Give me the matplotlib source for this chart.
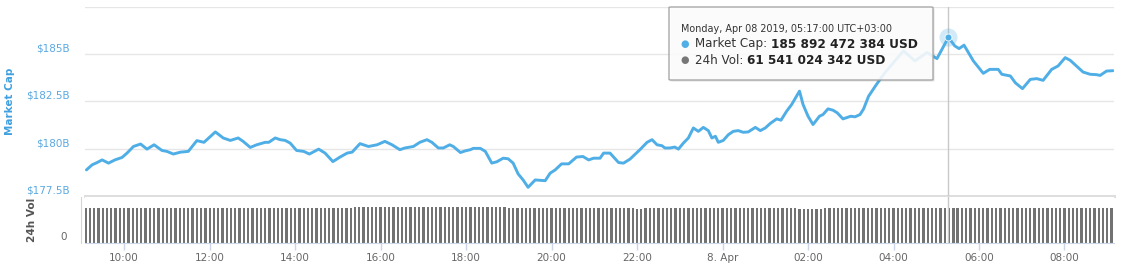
import matplotlib
matplotlib.use("Agg")
import matplotlib.pyplot as plt
import matplotlib.dates as mdates
from matplotlib.transforms import offset_copy, blended_transform_factory
from matplotlib.patches import FancyBboxPatch
import pandas as pd

# ---------------- data ----------------
mcap_times = [
    "04-07 09:07", "04-07 09:15", "04-07 09:22", "04-07 09:29", "04-07 09:38", "04-07 09:47",
    "04-07 09:57", "04-07 10:04", "04-07 10:13", "04-07 10:23", "04-07 10:32", "04-07 10:42",
    "04-07 10:53", "04-07 11:00", "04-07 11:09", "04-07 11:19", "04-07 11:30", "04-07 11:42",
    "04-07 11:52", "04-07 12:08", "04-07 12:19", "04-07 12:29", "04-07 12:40", "04-07 12:47",
    "04-07 12:57", "04-07 13:06", "04-07 13:18", "04-07 13:23", "04-07 13:32", "04-07 13:39",
    "04-07 13:46", "04-07 13:53", "04-07 14:02", "04-07 14:12", "04-07 14:20", "04-07 14:33",
    "04-07 14:42", "04-07 14:53", "04-07 15:03", "04-07 15:13", "04-07 15:20", "04-07 15:31",
    "04-07 15:43", "04-07 15:55", "04-07 16:06", "04-07 16:16", "04-07 16:27", "04-07 16:34",
    "04-07 16:46", "04-07 16:55", "04-07 17:05", "04-07 17:12", "04-07 17:21", "04-07 17:28",
    "04-07 17:37", "04-07 17:42", "04-07 17:52", "04-07 17:59", "04-07 18:06", "04-07 18:10",
    "04-07 18:20", "04-07 18:27", "04-07 18:36", "04-07 18:43", "04-07 18:52", "04-07 18:59",
    "04-07 19:06", "04-07 19:13", "04-07 19:20", "04-07 19:27", "04-07 19:37", "04-07 19:51",
    "04-07 19:58", "04-07 20:05", "04-07 20:14", "04-07 20:24", "04-07 20:35", "04-07 20:44",
    "04-07 20:52", "04-07 20:59", "04-07 21:08", "04-07 21:13", "04-07 21:22", "04-07 21:34",
    "04-07 21:41", "04-07 21:50", "04-07 22:04", "04-07 22:14", "04-07 22:21", "04-07 22:28",
    "04-07 22:35", "04-07 22:39", "04-07 22:46", "04-07 22:53", "04-07 22:58", "04-07 23:05",
    "04-07 23:12", "04-07 23:19", "04-07 23:26", "04-07 23:33", "04-07 23:40", "04-07 23:45",
    "04-07 23:50", "04-07 23:54", "04-08 00:01", "04-08 00:08", "04-08 00:15", "04-08 00:22",
    "04-08 00:29", "04-08 00:36", "04-08 00:46", "04-08 00:53", "04-08 01:00", "04-08 01:07",
    "04-08 01:16", "04-08 01:22", "04-08 01:30", "04-08 01:37", "04-08 01:48", "04-08 01:53",
    "04-08 02:00", "04-08 02:07", "04-08 02:16", "04-08 02:21", "04-08 02:28", "04-08 02:35",
    "04-08 02:41", "04-08 02:49", "04-08 03:00", "04-08 03:06", "04-08 03:13", "04-08 03:18",
    "04-08 03:25", "04-08 03:36", "04-08 03:48", "04-08 04:02", "04-08 04:14", "04-08 04:30",
    "04-08 04:47", "04-08 05:01", "04-08 05:17", "04-08 05:26", "04-08 05:32", "04-08 05:39",
    "04-08 05:52", "04-08 06:06", "04-08 06:15", "04-08 06:27", "04-08 06:32", "04-08 06:44",
    "04-08 06:51", "04-08 07:01", "04-08 07:12", "04-08 07:21", "04-08 07:30", "04-08 07:42",
    "04-08 07:51", "04-08 08:01", "04-08 08:08", "04-08 08:26", "04-08 08:36", "04-08 08:45",
    "04-08 08:50", "04-08 08:59", "04-08 09:08",
]
mcap_billion = [
    178.88, 179.15, 179.27, 179.41, 179.24, 179.41,
    179.54, 179.77, 180.12, 180.25, 179.98, 180.21,
    179.91, 179.86, 179.72, 179.82, 179.86, 180.43,
    180.34, 180.89, 180.57, 180.44, 180.57, 180.39,
    180.07, 180.21, 180.34, 180.34, 180.57, 180.48,
    180.44, 180.30, 179.91, 179.86, 179.72, 179.98,
    179.77, 179.32, 179.56, 179.77, 179.82, 180.27,
    180.12, 180.21, 180.39, 180.21, 179.95, 180.04,
    180.12, 180.34, 180.48, 180.34, 180.04, 180.04,
    180.21, 180.12, 179.80, 179.89, 179.95, 180.02,
    180.02, 179.86, 179.24, 179.31, 179.50, 179.47,
    179.24, 178.67, 178.35, 177.96, 178.35, 178.31,
    178.71, 178.88, 179.20, 179.20, 179.56, 179.59,
    179.41, 179.50, 179.50, 179.77, 179.77, 179.27,
    179.24, 179.45, 179.95, 180.34, 180.48, 180.21,
    180.16, 180.04, 180.04, 180.09, 179.98, 180.30,
    180.57, 181.10, 180.92, 181.13, 180.96, 180.57,
    180.66, 180.34, 180.44, 180.74, 180.92, 180.96,
    180.87, 180.89, 181.13, 180.96, 181.10, 181.34,
    181.58, 181.51, 181.99, 182.34, 183.05, 182.34,
    181.72, 181.28, 181.72, 181.81, 182.11, 182.04,
    181.90, 181.58, 181.72, 181.69, 181.81, 182.11,
    182.78, 183.40, 184.03, 184.65, 185.18, 184.65,
    185.09, 184.77, 185.89, 185.44, 185.30, 185.48,
    184.65, 183.99, 184.20, 184.20, 183.94, 183.85,
    183.49, 183.18, 183.67, 183.71, 183.62, 184.20,
    184.38, 184.82, 184.68, 184.06, 183.94, 183.92,
    183.88, 184.11, 184.13,
]

vol_start = "2019-04-07 09:06"
vol_step_minutes = 6
volume_billion = [
    60.8, 60.8, 60.8, 60.8, 61.5, 61.5, 61.5, 61.5, 61.5, 61.5, 61.5, 61.5,
    61.5, 61.5, 61.5, 61.5, 61.5, 61.5, 61.5, 61.5, 61.5, 61.5, 61.5, 61.5,
    61.5, 61.5, 61.5, 61.5, 61.5, 61.5, 61.5, 61.5, 61.5, 61.5, 61.5, 61.5,
    61.5, 61.5, 61.5, 61.5, 61.5, 61.5, 61.5, 61.5, 61.5, 61.5, 61.5, 61.5,
    61.5, 61.5, 61.5, 61.5, 61.5, 61.5, 61.5, 61.5, 61.5, 61.5, 61.5, 61.5,
    61.5, 61.5, 61.5, 62.8, 62.8, 62.8, 62.8, 62.8, 62.8, 62.0, 62.0, 62.0,
    62.0, 62.0, 62.0, 62.0, 62.0, 62.0, 63.0, 63.0, 63.0, 63.0, 63.0, 63.0,
    63.0, 63.0, 63.0, 63.0, 63.0, 63.0, 61.8, 61.8, 61.8, 61.8, 61.8, 61.8,
    61.8, 61.8, 61.8, 61.3, 61.3, 61.3, 61.3, 61.3, 61.3, 61.3, 61.3, 61.3,
    61.3, 60.5, 60.5, 60.5, 60.5, 60.5, 60.5, 60.5, 60.5, 60.5, 60.5, 60.5,
    60.5, 60.5, 60.5, 60.5, 60.5, 60.5, 60.5, 60.5, 60.5, 59.6, 59.6, 60.2,
    60.2, 60.2, 60.2, 60.2, 60.2, 60.2, 60.2, 60.2, 60.2, 60.2, 60.2, 60.2,
    60.2, 60.2, 60.2, 60.2, 60.2, 60.2, 60.2, 60.2, 60.2, 60.2, 60.2, 60.2,
    60.2, 60.2, 60.2, 60.2, 60.2, 60.2, 60.2, 60.2, 60.2, 60.2, 60.2, 59.7,
    59.7, 59.7, 59.7, 59.7, 59.7, 60.5, 60.5, 60.5, 60.5, 60.5, 60.5, 60.5,
    60.5, 60.5, 60.5, 60.5, 60.5, 60.5, 60.9, 60.9, 60.9, 60.9, 60.9, 60.9,
    61.5, 61.5, 61.5, 61.5, 61.5, 61.5, 61.5, 61.5, 61.5, 61.5, 61.5, 61.5,
    61.5, 61.5, 61.5, 61.5, 61.5, 61.5, 61.5, 61.5, 61.5, 61.5, 61.5, 61.5,
    61.5, 61.5, 61.5, 61.5, 61.5, 61.5, 61.5, 61.5, 61.5, 61.5, 61.5, 61.5,
    61.5, 61.5, 61.5, 61.5, 61.5, 61.5, 61.5, 61.5, 61.5, 61.5, 61.5, 61.5,
    61.5,
]

mcap_ticks = [177.5, 180, 182.5, 185]
mcap_tick_labels = ["$177.5B", "$180B", "$182.5B", "$185B"]
x_tick_times = ["2019-04-07 10:00", "2019-04-07 12:00", "2019-04-07 14:00", "2019-04-07 16:00",
                "2019-04-07 18:00", "2019-04-07 20:00", "2019-04-07 22:00", "2019-04-08 00:00",
                "2019-04-08 02:00", "2019-04-08 04:00", "2019-04-08 06:00", "2019-04-08 08:00"]
x_tick_labels = ["10:00", "12:00", "14:00", "16:00", "18:00", "20:00", "22:00", "8. Apr",
                 "02:00", "04:00", "06:00", "08:00"]

hover_time = "2019-04-08 05:17"
hover_mcap = 185.892472384
tooltip_date = "Monday, Apr 08 2019, 05:17:00 UTC+03:00"
tooltip_mcap = "185 892 472 384 USD"
tooltip_vol = "61 541 024 342 USD"

# ---------------- styling ----------------
BLUE = "#4faee6"
GRID = "#e6e6e6"
AXIS = "#ccd6eb"
W, H = 1122, 280

t_line = mdates.date2num(pd.to_datetime(["2019-" + s for s in mcap_times]))
t_vol = mdates.date2num(pd.date_range(vol_start, periods=len(volume_billion),
                                      freq=f"{vol_step_minutes}min"))
t_hover = mdates.date2num(pd.Timestamp(hover_time))

fig = plt.figure(figsize=(W / 100, H / 100), dpi=100)
ax = fig.add_axes([85 / W, 84 / H, 1029 / W, 189 / H])
axv = fig.add_axes([85 / W, 37 / H, 1029 / W, 46 / H], sharex=ax)

# --- top pane ---
ax.set_ylim(177.5, 187.5)
for y in [180, 182.5, 185, 187.5]:
    ax.axhline(y, color=GRID, lw=1, zorder=0)
ax.axhline(177.5, color="#dedede", lw=2.2, zorder=0, clip_on=False)
for s in ax.spines.values():
    s.set_visible(False)
ax.set_yticks([])
ax.tick_params(bottom=False, labelbottom=False)

ax.axvline(t_hover, color="#c8c8c8", lw=1, zorder=1)
ax.plot(t_line, mcap_billion, color=BLUE, lw=2.1, solid_joinstyle="round",
        solid_capstyle="round", zorder=3)
ax.plot([t_hover], [hover_mcap], "o", ms=13, color=BLUE, alpha=0.25, mec="none", zorder=4)
ax.plot([t_hover], [hover_mcap], "o", ms=5, color=BLUE, mec="white", mew=0.6, zorder=5)

ylab_tr = offset_copy(blended_transform_factory(fig.transFigure, ax.transData),
                      fig=fig, x=0, y=4.0, units="points")
for v, lab in zip(mcap_ticks, mcap_tick_labels):
    fig.text(70 / W, v, lab, transform=ylab_tr, ha="right", va="center",
             fontsize=7.5, color="#5ba9e0")

# --- volume pane ---
axv.set_ylim(0, 80)
axv.bar(t_vol, volume_billion, width=3.2 / 1440, color="#727272", align="center", zorder=2)
axv.axvline(t_hover, color="#c8c8c8", lw=1, zorder=4)
for k in ["top", "right"]:
    axv.spines[k].set_visible(False)
axv.spines["left"].set_color(AXIS)
axv.spines["left"].set_position(("outward", 3))
axv.spines["bottom"].set_color(AXIS)
axv.set_yticks([])
axv.set_xticks(mdates.date2num(pd.to_datetime(x_tick_times)))
axv.set_xticklabels(x_tick_labels)
axv.tick_params(axis="x", direction="out", length=5, width=1, color=AXIS,
                labelsize=7.5, labelcolor="#666666", pad=2.5)
axv.set_xlim(mdates.date2num(pd.Timestamp("2019-04-07 09:05")),
             mdates.date2num(pd.Timestamp("2019-04-08 09:09:30")))

vlab_tr = offset_copy(blended_transform_factory(fig.transFigure, axv.transData),
                      fig=fig, x=0, y=4.3, units="points")
fig.text(67 / W, 0, "0", transform=vlab_tr, ha="right", va="center",
         fontsize=7.5, color="#666666")

fig.text(10 / W, 1 - 101 / H, "Market Cap", rotation=90, ha="center", va="center",
         fontsize=7.5, fontweight="bold", color="#3fa0e0")
fig.text(32 / W, 1 - 220 / H, "24h Vol", rotation=90, ha="center", va="center",
         fontsize=7.6, fontweight="bold", color="#555555")

# --- tooltip ---
bx0, bx1, by0, by1 = 669 / W, 933 / W, 1 - 80 / H, 1 - 7 / H
shadow = FancyBboxPatch((bx0 + 1.5 / W, by0 - 1.5 / H), bx1 - bx0, by1 - by0,
                        boxstyle="round,pad=0,rounding_size=0.002", transform=fig.transFigure,
                        fc=(0, 0, 0, 0.12), ec="none", zorder=5)
box = FancyBboxPatch((bx0, by0), bx1 - bx0, by1 - by0,
                     boxstyle="round,pad=0,rounding_size=0.002", transform=fig.transFigure,
                     fc=(1, 1, 1, 0.88), ec="#a8a8a8", lw=1, zorder=6)
fig.add_artist(shadow)
fig.add_artist(box)

fig.text(681 / W, 1 - 29 / H, tooltip_date, fontsize=6.9, color="#333333",
         va="center", ha="left", zorder=7)
rows = [("Market Cap:", tooltip_mcap, BLUE, 44), ("24h Vol:", tooltip_vol, "#777777", 60)]
renderer = fig.canvas.get_renderer()
for name, val, col, ypx in rows:
    fig.text(685 / W, 1 - ypx / H, "\u25CF", fontsize=7, color=col, ha="center",
             va="center", zorder=7)
    t = fig.text(695 / W, 1 - ypx / H, name, fontsize=8.6, color="#333333",
                 ha="left", va="center", zorder=7)
    bb = t.get_window_extent(renderer=renderer)
    fig.text((bb.x1 + 4) / W, 1 - ypx / H, val, fontsize=8.7, fontweight="bold",
             color="#222222", ha="left", va="center", zorder=7)

fig.savefig("out.png", dpi=100)
